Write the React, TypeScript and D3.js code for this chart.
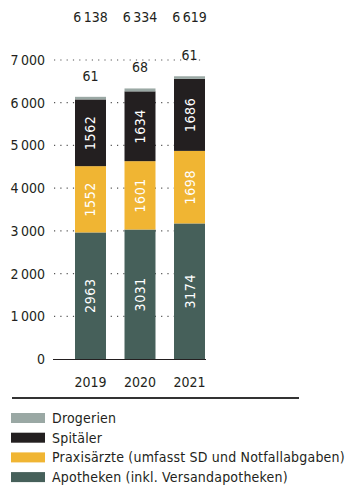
import React from "react";
import * as d3 from "d3";

const years = ["2019", "2020", "2021"];
const apotheken = [2963, 3031, 3174];
const praxis = [1552, 1601, 1698];
const spitaeler = [1562, 1634, 1686];
const drogerien = [61, 68, 61];
const totals = [6138, 6334, 6619];
const yTicks = [0, 1000, 2000, 3000, 4000, 5000, 6000, 7000];

const seriesNames = ["Apotheken (inkl. Versandapotheken)", "Praxisärzte (umfasst SD und Notfallabgaben)", "Spitäler", "Drogerien"];
const seriesColors = ["#46605a", "#f0b533", "#231f20", "#9aa8a4"];
const seriesData = [apotheken, praxis, spitaeler, drogerien];

const FONT = "'DejaVu Sans Condensed', 'Liberation Sans Narrow', sans-serif";

const fmt = (v: number) => {
  const s = String(v);
  return s.length > 3 ? s.slice(0, s.length - 3) + "\u2009" + s.slice(-3) : s;
};

export default function App() {
  const W = 362, H = 488;
  const y = d3.scaleLinear().domain([0, 7000]).range([359, 60]);
  const x = d3.scaleBand().domain(years).range([75, 205]).paddingInner(0.374).paddingOuter(0);
  const bw = x.bandwidth();

  const table = years.map((yr, i) => {
    const o: any = { year: yr };
    seriesNames.forEach((n, k) => (o[n] = seriesData[k][i]));
    return o;
  });
  const stacked = d3.stack().keys(seriesNames)(table);

  return (
    <svg width={W} height={H} style={{ position: "absolute", left: 0, top: 0 }} fontFamily={FONT}>
      <rect width={W} height={H} fill="#fff" />
      {years.map((yr, i) => (
        <text key={"t" + yr} x={x(yr)! + bw / 2} y={22} textAnchor="middle" fontSize={14} fill="#231f20">
          {fmt(totals[i])}
        </text>
      ))}
      {yTicks.map((t) => (
        <g key={"g" + t}>
          {t > 0 && (
            <line x1={54} x2={205} y1={y(t)} y2={y(t)} stroke="#555" strokeWidth={1.2} strokeDasharray="1.2 5.1" />
          )}
          <text x={45} y={y(t) + 5} textAnchor="end" fontSize={14} fill="#231f20">
            {fmt(t)}
          </text>
        </g>
      ))}
      {stacked.map((layer, k) => (
        <g key={"l" + k} fill={seriesColors[k]}>
          {layer.map((d, i) => (
            <rect key={i} x={x(years[i])!} y={y(d[1])} width={bw} height={y(d[0]) - y(d[1])} />
          ))}
        </g>
      ))}
      {stacked.slice(0, 3).map((layer, k) =>
        layer.map((d, i) => {
          const cx = x(years[i])! + bw / 2;
          const cy = (y(d[0]) + y(d[1])) / 2;
          return (
            <text
              key={k + "-" + i}
              transform={`translate(${cx + 5},${cy}) rotate(-90)`}
              textAnchor="middle"
              fontSize={14}
              letterSpacing={0.6}
              fill="#fff"
            >
              {seriesData[k][i]}
            </text>
          );
        })
      )}
      {stacked[3].map((d, i) => (
        <text key={"d" + i} x={x(years[i])! + bw / 2} y={y(d[1]) - 16} textAnchor="middle" fontSize={14} fill="#231f20">
          {drogerien[i]}
        </text>
      ))}
      <line x1={53} x2={206} y1={y(0) + 0.5} y2={y(0) + 0.5} stroke="#231f20" strokeWidth={1} />
      {years.map((yr) => (
        <text key={"x" + yr} x={x(yr)! + bw / 2} y={387} textAnchor="middle" fontSize={14} fill="#231f20">
          {yr}
        </text>
      ))}
      <line x1={12} x2={299} y1={398} y2={398} stroke="#333" strokeWidth={2} />
      {[3, 2, 1, 0].map((k, r) => (
        <g key={"lg" + k} transform={`translate(0,${418 + r * 19.7})`}>
          <rect x={11} y={-5} width={34} height={10} fill={seriesColors[k]} />
          <text x={52} y={5} fontSize={14} letterSpacing={0.2} fill="#231f20">
            {seriesNames[k]}
          </text>
        </g>
      ))}
    </svg>
  );
}
